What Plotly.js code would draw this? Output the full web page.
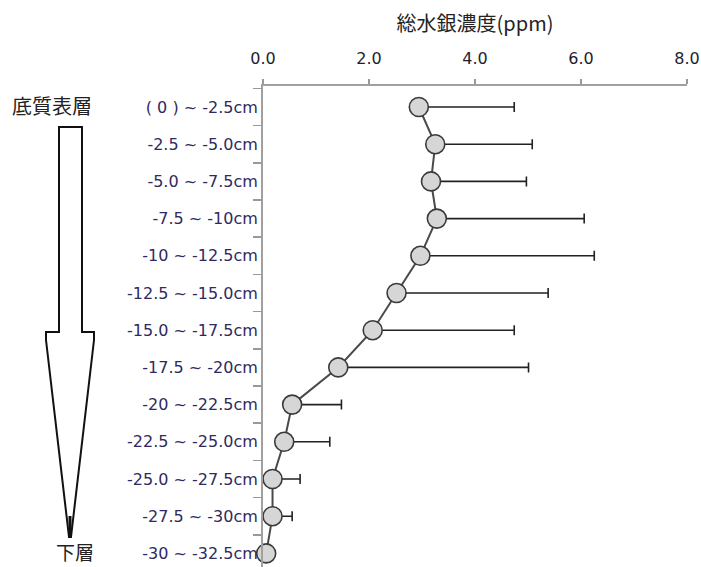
<!DOCTYPE html>
<html>
<head>
<meta charset="utf-8">
<script src="https://cdn.plot.ly/plotly-3.0.1.min.js"></script>
<style>
html,body{margin:0;padding:0;background:#fff;}
#chart{width:701px;height:567px;}
</style>
</head>
<body>
<div id="chart"></div>
<script>
// ---- data ----
const depthLabels = [
  "( 0 ) ~ -2.5cm", "-2.5 ~ -5.0cm", "-5.0 ~ -7.5cm", "-7.5 ~ -10cm",
  "-10 ~ -12.5cm", "-12.5 ~ -15.0cm", "-15.0 ~ -17.5cm", "-17.5 ~ -20cm",
  "-20 ~ -22.5cm", "-22.5 ~ -25.0cm", "-25.0 ~ -27.5cm", "-27.5 ~ -30cm",
  "-30 ~ -32.5cm"
];
const meanHg = [2.94, 3.25, 3.17, 3.28, 2.97, 2.52, 2.07, 1.42, 0.55, 0.40, 0.18, 0.18, 0.06];
const upperHg = [4.74, 5.08, 4.97, 6.06, 6.25, 5.38, 4.74, 5.01, 1.48, 1.26, 0.70, 0.55, 0.12];
const errPlus = meanHg.map((m, i) => +(upperHg[i] - m).toFixed(3));
const errMinus = meanHg.map(() => 0);
const xTickVals = [0, 2, 4, 6, 8];
const xTickText = ["0.0", "2.0", "4.0", "6.0", "8.0"];
const xTitle = "総水銀濃度(ppm)";
const topLabel = "底質表層";
const bottomLabel = "下層";

// ---- layout geometry ----
const W = 701, H = 567;
const M = {l: 263, r: 14, t: 86, b: 0};
const pw = W - M.l - M.r, ph = H - M.t - M.b;
const px = x => (x - M.l) / pw;          // pixel -> paper x
const py = y => 1 - (y - M.t) / ph;      // pixel -> paper y

// arrow outline (decoration)
const arrowPts = [[59,127],[82,127],[82,332],[94,332],[94,340],[71,537],[69,537],[46,340],[46,332],[59,332]];
const arrowPath = 'M' + arrowPts.map(p => px(p[0]).toFixed(5) + ',' + py(p[1]).toFixed(5)).join(' L') + ' Z';

const trace = {
  type: 'scatter',
  mode: 'lines+markers',
  x: meanHg,
  y: depthLabels,
  cliponaxis: false,
  line: {color: '#4a4a4a', width: 2},
  marker: {symbol: 'circle', size: 19, color: '#d6d6d6', line: {color: '#3a3a3a', width: 1.6}},
  error_x: {type: 'data', symmetric: false, array: errPlus, arrayminus: errMinus,
            color: '#222', thickness: 1.6, width: 5},
  hoverinfo: 'x+y'
};

const layout = {
  width: W, height: H,
  margin: M,
  paper_bgcolor: '#fff', plot_bgcolor: '#fff',
  showlegend: false,
  font: {family: 'DejaVu Sans, sans-serif', size: 15, color: '#222'},
  xaxis: {
    side: 'top', range: [0, 8],
    tickmode: 'array', tickvals: xTickVals, ticktext: xTickText,
    ticks: 'outside', ticklen: 5, tickwidth: 1.5, tickcolor: '#999',
    showline: true, linecolor: '#a0a0a0', linewidth: 2,
    showgrid: false, zeroline: false,
    tickfont: {family: 'DejaVu Sans, sans-serif', size: 16, color: '#1e1e30'},
    ticklabelstandoff: 9,
    title: {text: xTitle, standoff: 12, font: {family: 'Noto Sans CJK JP', size: 20, color: '#222'}}
  },
  yaxis: {
    type: 'category',
    range: [12.365, -0.565],
    tickson: 'boundaries',
    ticks: 'outside', ticklen: 8, tickwidth: 1.5, tickcolor: '#999',
    showline: true, linecolor: '#a0a0a0', linewidth: 2,
    showgrid: false, zeroline: false,
    tickfont: {family: 'DejaVu Sans, sans-serif', size: 16, color: '#2e2a60'}
  },
  shapes: [
    {type: 'path', xref: 'paper', yref: 'paper', path: arrowPath,
     line: {color: '#111', width: 2}, fillcolor: 'rgba(0,0,0,0)'},
    {type: 'line', xref: 'paper', yref: 'paper', x0: px(70), x1: px(70), y0: py(516), y1: py(538),
     line: {color: '#111', width: 3}}
  ],
  annotations: [
    {text: topLabel, xref: 'paper', yref: 'paper', x: px(52), y: py(105), showarrow: false,
     xanchor: 'center', yanchor: 'middle', font: {family: 'Noto Sans CJK JP', size: 20, color: '#222'}},
    {text: bottomLabel, xref: 'paper', yref: 'paper', x: px(75), y: py(551), showarrow: false,
     xanchor: 'center', yanchor: 'middle', font: {family: 'Noto Sans CJK JP', size: 19, color: '#222'}}
  ]
};

Plotly.newPlot('chart', [trace], layout, {displayModeBar: false, staticPlot: true});
</script>
</body>
</html>
